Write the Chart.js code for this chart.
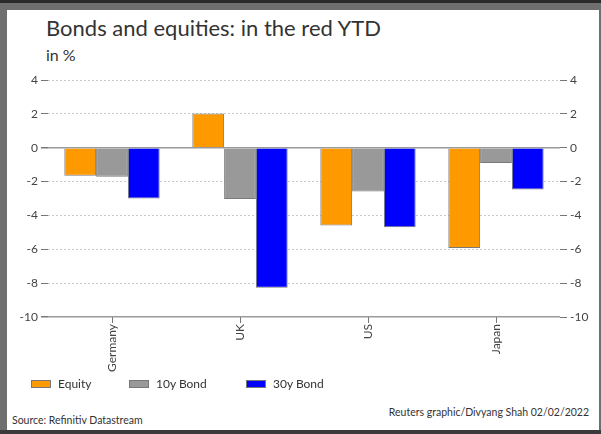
<!DOCTYPE html>
<html>
<head>
<meta charset="utf-8">
<script src="https://cdn.jsdelivr.net/npm/chart.js@4.4.1/dist/chart.umd.min.js"></script>
<style>
  html, body { margin: 0; padding: 0; }
  body { width: 601px; height: 434px; background: #6f6f6f; position: relative; overflow: hidden; font-family: Lato, sans-serif; }
  #topbar { position: absolute; left: 0; top: 0; width: 601px; height: 3px; background: #2b2b2b; }
  #bottombar { position: absolute; left: 0; top: 430px; width: 601px; height: 4px; background: #3a3a3a; }
  #panel { position: absolute; left: 7px; top: 10px; width: 592px; height: 420px; background: #fff; }
  #title { position: absolute; left: 39px; top: 7px; font-size: 22px; line-height: 22px; color: #333; white-space: nowrap; }
  #unit { position: absolute; left: 39px; top: 37px; font-size: 16px; line-height: 16px; color: #333; }
  #source { position: absolute; left: 5px; top: 405px; font-size: 10.5px; line-height: 11px; color: #333; }
  #credit { position: absolute; right: 10px; top: 397px; font-size: 10.5px; line-height: 11px; color: #333; }
  #wrap { position: absolute; left: 0; top: 58px; width: 592px; height: 311px; }
  #legend { position: absolute; left: 0; top: 366px; width: 592px; height: 16px; font-size: 12px; color: #333; }
  #legend .item { position: absolute; top: 0; white-space: nowrap; line-height: 16px; }
  #legend .box { display: inline-block; width: 18px; height: 6px; border: 1px solid #777; vertical-align: middle; margin-right: 7px; position: relative; top: -1px; }
</style>
</head>
<body>
<div id="topbar"></div>
<div id="panel">
  <div id="title">Bonds and equities: in the red YTD</div>
  <div id="unit">in %</div>
  <div id="wrap"><canvas id="chart"></canvas></div>
  <div id="legend"></div>
  <div id="credit">Reuters graphic/Divyang Shah 02/02/2022</div>
  <div id="source">Source: Refinitiv Datastream</div>
</div>
<div id="bottombar"></div>
<script>
// year-to-date performance, in %
var countries = ["Germany", "UK", "US", "Japan"]
var equity = [-1.65, 2.02, -4.6, -5.93]
var bond10y = [-1.72, -3.03, -2.58, -0.9]
var bond30y = [-3.0, -8.27, -4.7, -2.47]

var barBorder = "#7a7a7a"
var tickFont = { family: "Lato", size: 12 }

function isSolid(ctx) {
  // zero line and bottom axis are solid, the rest dotted
  var v = ctx.tick && ctx.tick.value
  return v === 0 || v === -10
}

var chart = new Chart(document.getElementById("chart"), {
  type: 'bar',
  data: {
    labels: countries,
    datasets: [{
      label: "Equity",
      backgroundColor: "#ff9900",
      borderColor: barBorder,
      borderWidth: 1,
      data: equity
    }, {
      label: "10y Bond",
      backgroundColor: "#999999",
      borderColor: barBorder,
      borderWidth: 1,
      data: bond10y
    }, {
      label: "30y Bond",
      backgroundColor: "#0000ff",
      borderColor: barBorder,
      borderWidth: 1,
      data: bond30y
    }]
  },
  options: {
    responsive: true,
    maintainAspectRatio: false,
    animation: false,
    layout: { padding: { top: 12, left: 0, right: 0, bottom: 0 } },
    datasets: { bar: { categoryPercentage: 0.745, barPercentage: 1.0 } },
    plugins: {
      tooltip: { enabled: false },
      legend: { display: false }
    },
    scales: {
      x: {
        grid: {
          offset: false,
          drawOnChartArea: false,
          tickLength: 6,
          tickColor: "#777"
        },
        border: { display: false },
        ticks: {
          color: "#444",
          font: tickFont,
          minRotation: 90,
          maxRotation: 90,
          padding: 1
        },
        afterFit: function (scale) { scale.height = 62 }
      },
      y: {
        position: 'left',
        min: -10,
        max: 4,
        ticks: { stepSize: 2, color: "#444", font: tickFont, padding: 3 },
        grid: {
          color: function (ctx) { return isSolid(ctx) ? "#9a9a9a" : "#c8c8c8" },
          lineWidth: function (ctx) { return isSolid(ctx) ? 1.5 : 1 },
          tickLength: 7,
          tickColor: "#777",
          tickBorderDash: []
        },
        border: { display: false, dash: function (ctx) { return isSolid(ctx) ? [] : [2, 2] } },
        afterFit: function (scale) { scale.width = 41 }
      },
      y2: {
        position: 'right',
        min: -10,
        max: 4,
        ticks: { stepSize: 2, color: "#444", font: tickFont, padding: 3 },
        grid: { drawOnChartArea: false, tickLength: 7, tickColor: "#777" },
        border: { display: false },
        afterFit: function (scale) { scale.width = 39 }
      }
    }
  }
});

// legend row under the axis labels
var legendX = [24, 122, 239]
var legend = document.getElementById("legend")
chart.data.datasets.forEach(function (ds, i) {
  var item = document.createElement("span")
  item.className = "item"
  item.style.left = legendX[i] + "px"
  var box = document.createElement("span")
  box.className = "box"
  box.style.background = ds.backgroundColor
  item.appendChild(box)
  item.appendChild(document.createTextNode(ds.label))
  legend.appendChild(item)
})
</script>
</body>
</html>
